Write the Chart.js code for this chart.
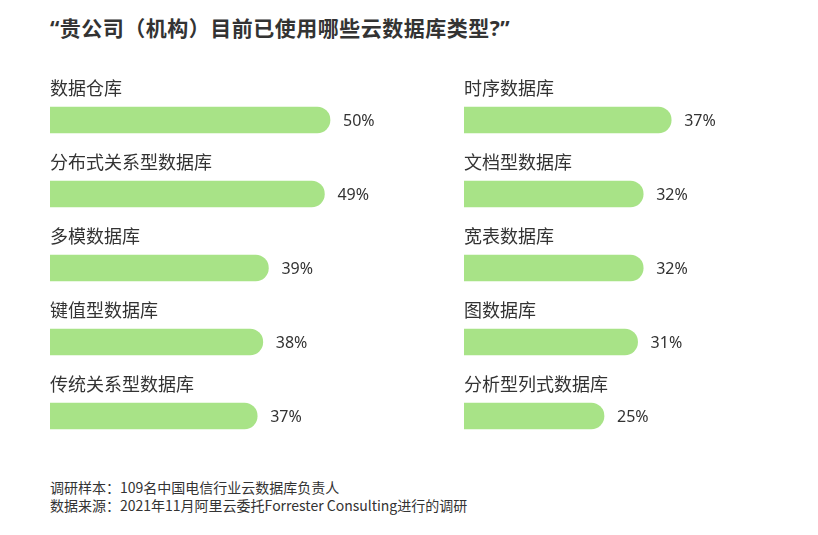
<!DOCTYPE html>
<html>
<head>
<meta charset="utf-8">
<script src="https://cdn.jsdelivr.net/npm/chart.js@4"></script>
<style>
  body { margin: 0; background: #fff; width: 818px; height: 535px; position: relative; overflow: hidden;
         font-family: "Noto Sans CJK SC", "Noto Sans", sans-serif; color: #333; }
  #title { position: absolute; left: 50px; top: 13px; font-family: "Noto Sans", "Noto Sans CJK SC", sans-serif;
           font-size: 21px; line-height: 30px; letter-spacing: 0.5px; font-weight: bold; color: #333; }
  .col { position: absolute; top: 60px; width: 360px; height: 410px; }
  #leftCol { left: 50px; }
  #rightCol { left: 464px; }
  #note { position: absolute; left: 50px; top: 478px; font-size: 14px; line-height: 18px; color: #333; }
</style>
</head>
<body>
<div id="title">“贵公司（机构）目前已使用哪些云数据库类型?”</div>
<div class="col" id="leftCol"><canvas id="leftChart"></canvas></div>
<div class="col" id="rightCol"><canvas id="rightChart"></canvas></div>
<div id="note">调研样本：109名中国电信行业云数据库负责人<br>数据来源：2021年11月阿里云委托Forrester Consulting进行的调研</div>
<script>
  // data
  const leftLabels = ['数据仓库', '分布式关系型数据库', '多模数据库', '键值型数据库', '传统关系型数据库'];
  const leftValues = [50, 49, 39, 38, 37];
  const rightLabels = ['时序数据库', '文档型数据库', '宽表数据库', '图数据库', '分析型列式数据库'];
  const rightValues = [37, 32, 32, 31, 25];

  const barColor = '#a8e387';

  // draws category name above each bar and the value to its right
  const labelPlugin = {
    id: 'barLabels',
    afterDatasetsDraw(chart) {
      const ctx = chart.ctx;
      const meta = chart.getDatasetMeta(0);
      const xs = chart.scales.x;
      ctx.save();
      ctx.fillStyle = '#333';
      ctx.textBaseline = 'middle';
      meta.data.forEach((bar, i) => {
        ctx.font = '18px "Noto Sans CJK SC", sans-serif';
        ctx.textAlign = 'left';
        ctx.fillText(chart.data.labels[i], xs.left, bar.y - 32);
        ctx.font = '16px "Noto Sans", "Noto Sans CJK SC", sans-serif';
        ctx.fillText(chart.data.datasets[0].data[i] + '%', bar.x + 13, bar.y + 1);
      });
      ctx.restore();
    }
  };

  function drawColumn(id, labels, values) {
    const ctx = document.getElementById(id).getContext('2d');
    new Chart(ctx, {
      type: 'bar',
      data: {
        labels: labels,
        datasets: [{
          data: values,
          backgroundColor: barColor,
          borderRadius: 13,
          borderSkipped: 'start',
          barThickness: 26
        }]
      },
      options: {
        indexAxis: 'y',
        responsive: true,
        maintainAspectRatio: false,
        animation: false,
        layout: { padding: { top: 23, bottom: 17, left: 0, right: 24 } },
        plugins: { legend: { display: false }, tooltip: { enabled: false } },
        scales: {
          x: { display: false, min: 0, max: 60 },
          y: { display: false }
        }
      },
      plugins: [labelPlugin]
    });
  }

  window.onload = function() {
    drawColumn('leftChart', leftLabels, leftValues);
    drawColumn('rightChart', rightLabels, rightValues);
  }
</script>
</body>
</html>
